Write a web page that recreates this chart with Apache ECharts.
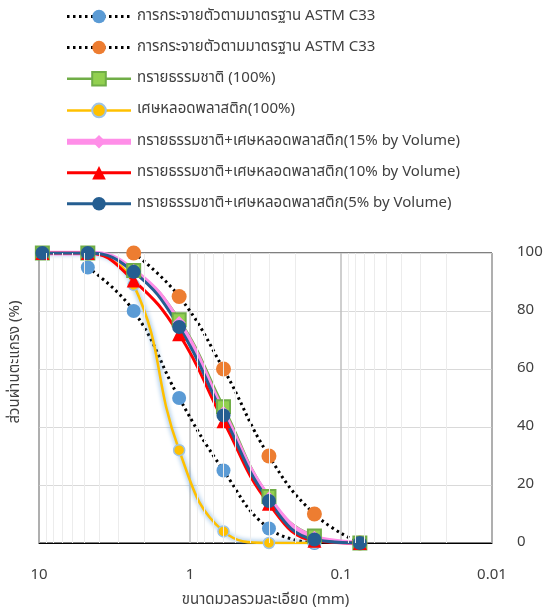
<!DOCTYPE html>
<html>
<head>
<meta charset="utf-8">
<script src="https://cdn.jsdelivr.net/npm/echarts@6/dist/echarts.min.js"></script>
<style>
html,body{margin:0;padding:0;background:#fff;}
#chart{width:546px;height:615px;}
</style>
</head>
<body>
<div id="chart"></div>
<script>
// Sieve sizes (mm)
var sieves = [9.5, 4.75, 2.36, 1.18, 0.6, 0.3, 0.15, 0.075];
// Percent passing
var astmLowerSieves = [4.75, 2.36, 1.18, 0.6, 0.3, 0.15];
var astmLower = [95, 80, 50, 25, 5, 0];
var astmUpperSieves = [2.36, 1.18, 0.6, 0.3, 0.15, 0.075];
var astmUpper = [100, 85, 60, 30, 10, 0];
var naturalSand = [100, 100, 94, 77, 47, 16, 2.4, 0];
var plasticSieves = [9.5, 4.75, 2.36, 1.18, 0.6, 0.3, 0.15];
var plasticWaste = [100, 100, 89, 32, 4, 0, 0];
var mix15 = [100, 100, 94, 76, 45, 15.5, 2, 0];
var mix10 = [100, 100, 90.5, 72, 42, 13.5, 0.8, 0];
var mix5 = [100, 100, 93.5, 74.5, 44, 14.5, 1.2, 0];
// Axis ticks
var xTickLabels = ['10', '1', '0.1', '0.01'];
var yTicks = [0, 20, 40, 60, 80, 100];
var minorGridValues = [9,8,7,6,5,4,3,2, 0.9,0.8,0.7,0.6,0.5,0.4,0.3,0.2, 0.09,0.08,0.07,0.06,0.05,0.04,0.03,0.02];

var names = [
  'การกระจายตัวตามมาตรฐาน ASTM C33',
  'การกระจายตัวตามมาตรฐาน ASTM C33 ',
  'ทรายธรรมชาติ (100%)',
  'เศษหลอดพลาสติก(100%)',
  'ทรายธรรมชาติ+เศษหลอดพลาสติก(15% by Volume)',
  'ทรายธรรมชาติ+เศษหลอดพลาสติก(10% by Volume)',
  'ทรายธรรมชาติ+เศษหลอดพลาสติก(5% by Volume)'
];
var legendLineWidths = [3, 3, 2.5, 2.5, 6, 3, 3];

function pairs(xs, ys){ return xs.map(function(x,i){ return [x, ys[i]]; }); }

var FONT = "'Noto Sans Thai','Noto Sans','DejaVu Sans',sans-serif";
var TXT = '#404040';
var SM = 0.45;

var chart = echarts.init(document.getElementById('chart'), null, {renderer:'canvas'});
chart.setOption({
  animation: false,
  textStyle: {fontFamily: FONT},
  legend: {
    data: names.map(function(n, i){ return {name: n, lineStyle: {width: legendLineWidths[i]}}; }),
    orient: 'vertical',
    left: 64,
    top: 9,
    padding: 0,
    itemWidth: 64,
    itemHeight: 17,
    itemGap: 16,
    textStyle: {fontSize: 15, color: TXT, fontFamily: FONT, padding:[0,0,0,1]}
  },
  grid: {left: 39, right: 54, top: 253, bottom: 72, show: true, borderColor: '#000', borderWidth: 1, containLabel: false},
  graphic: [{
    type: 'text', x: 16, y: 362, rotation: Math.PI/2,
    style: {text: 'ส่วนผ่านตะแกรง (%)', fontSize: 15, fill: TXT, fontFamily: FONT, align: 'center', verticalAlign: 'middle'}
  }],
  xAxis: {
    type: 'log', logBase: 10, min: 0.01, max: 10, inverse: true,
    name: 'ขนาดมวลรวมละเอียด (mm)', nameLocation: 'middle', nameGap: 50,
    nameTextStyle: {fontSize: 15, color: TXT, fontFamily: FONT},
    axisLine: {show: true, onZero: false, lineStyle: {color: '#000'}},
    axisTick: {show: false},
    axisLabel: {fontSize: 15, color: TXT, margin: 25, fontFamily: FONT,
      formatter: function(v){ var s = String(+v.toPrecision(6)); return xTickLabels.indexOf(s) >= 0 ? s : ''; }},
    splitLine: {show: true, lineStyle: {color: '#bfbfbf', width: 1.5}}
  },
  yAxis: {
    type: 'value', position: 'right', min: 0, max: 100, interval: 20,
    axisLine: {show: false}, axisTick: {show: false},
    axisLabel: {fontSize: 15, color: TXT, margin: 25, fontFamily: FONT},
    splitLine: {show: true, lineStyle: {color: '#d9d9d9', width: 1}}
  },
  series: [
    {
      name: 'grid-minor', type: 'line', data: [], silent: true, z: 0,
      markLine: {
        silent: true, symbol: 'none', label: {show: false},
        lineStyle: {color: '#ececec', width: 1, type: 'solid'},
        data: minorGridValues.map(function(v){ return {xAxis: v}; })
      }
    },
    {
      name: names[0], type: 'line', smooth: SM, data: pairs(astmLowerSieves, astmLower),
      symbol: 'circle', symbolSize: 14,
      lineStyle: {color: '#000', width: 3, type: [2.5, 3.5]},
      itemStyle: {color: '#5b9bd5'}
    },
    {
      name: names[1], type: 'line', smooth: SM, data: pairs(astmUpperSieves, astmUpper),
      symbol: 'circle', symbolSize: 15,
      lineStyle: {color: '#000', width: 3, type: [2.5, 3.5]},
      itemStyle: {color: '#ed7d31'}
    },
    {
      name: names[2], type: 'line', smooth: SM, data: pairs(sieves, naturalSand),
      symbol: 'rect', symbolSize: 13,
      lineStyle: {color: '#70ad47', width: 2.5},
      itemStyle: {color: '#92d050', borderColor: '#70ad47', borderWidth: 2}
    },
    {
      name: names[3], type: 'line', smooth: SM, data: pairs(plasticSieves, plasticWaste),
      symbol: 'circle', symbolSize: 11,
      lineStyle: {color: '#ffc000', width: 2.5, shadowColor: '#5b9bd5', shadowBlur: 5},
      itemStyle: {color: '#ffc000', borderColor: '#9dc3e6', borderWidth: 1.5}
    },
    {
      name: names[4], type: 'line', smooth: SM, data: pairs(sieves, mix15),
      symbol: 'diamond', symbolSize: 13,
      lineStyle: {color: '#ff8ee8', width: 5},
      itemStyle: {color: '#ff8ee8'}
    },
    {
      name: names[5], type: 'line', smooth: SM, data: pairs(sieves, mix10),
      symbol: 'triangle', symbolSize: 14,
      lineStyle: {color: '#ff0000', width: 3},
      itemStyle: {color: '#ff0000'}
    },
    {
      name: names[6], type: 'line', smooth: SM, data: pairs(sieves, mix5),
      symbol: 'circle', symbolSize: 14,
      lineStyle: {color: '#255e91', width: 3},
      itemStyle: {color: '#255e91'}
    }
  ]
});
</script>
</body>
</html>
